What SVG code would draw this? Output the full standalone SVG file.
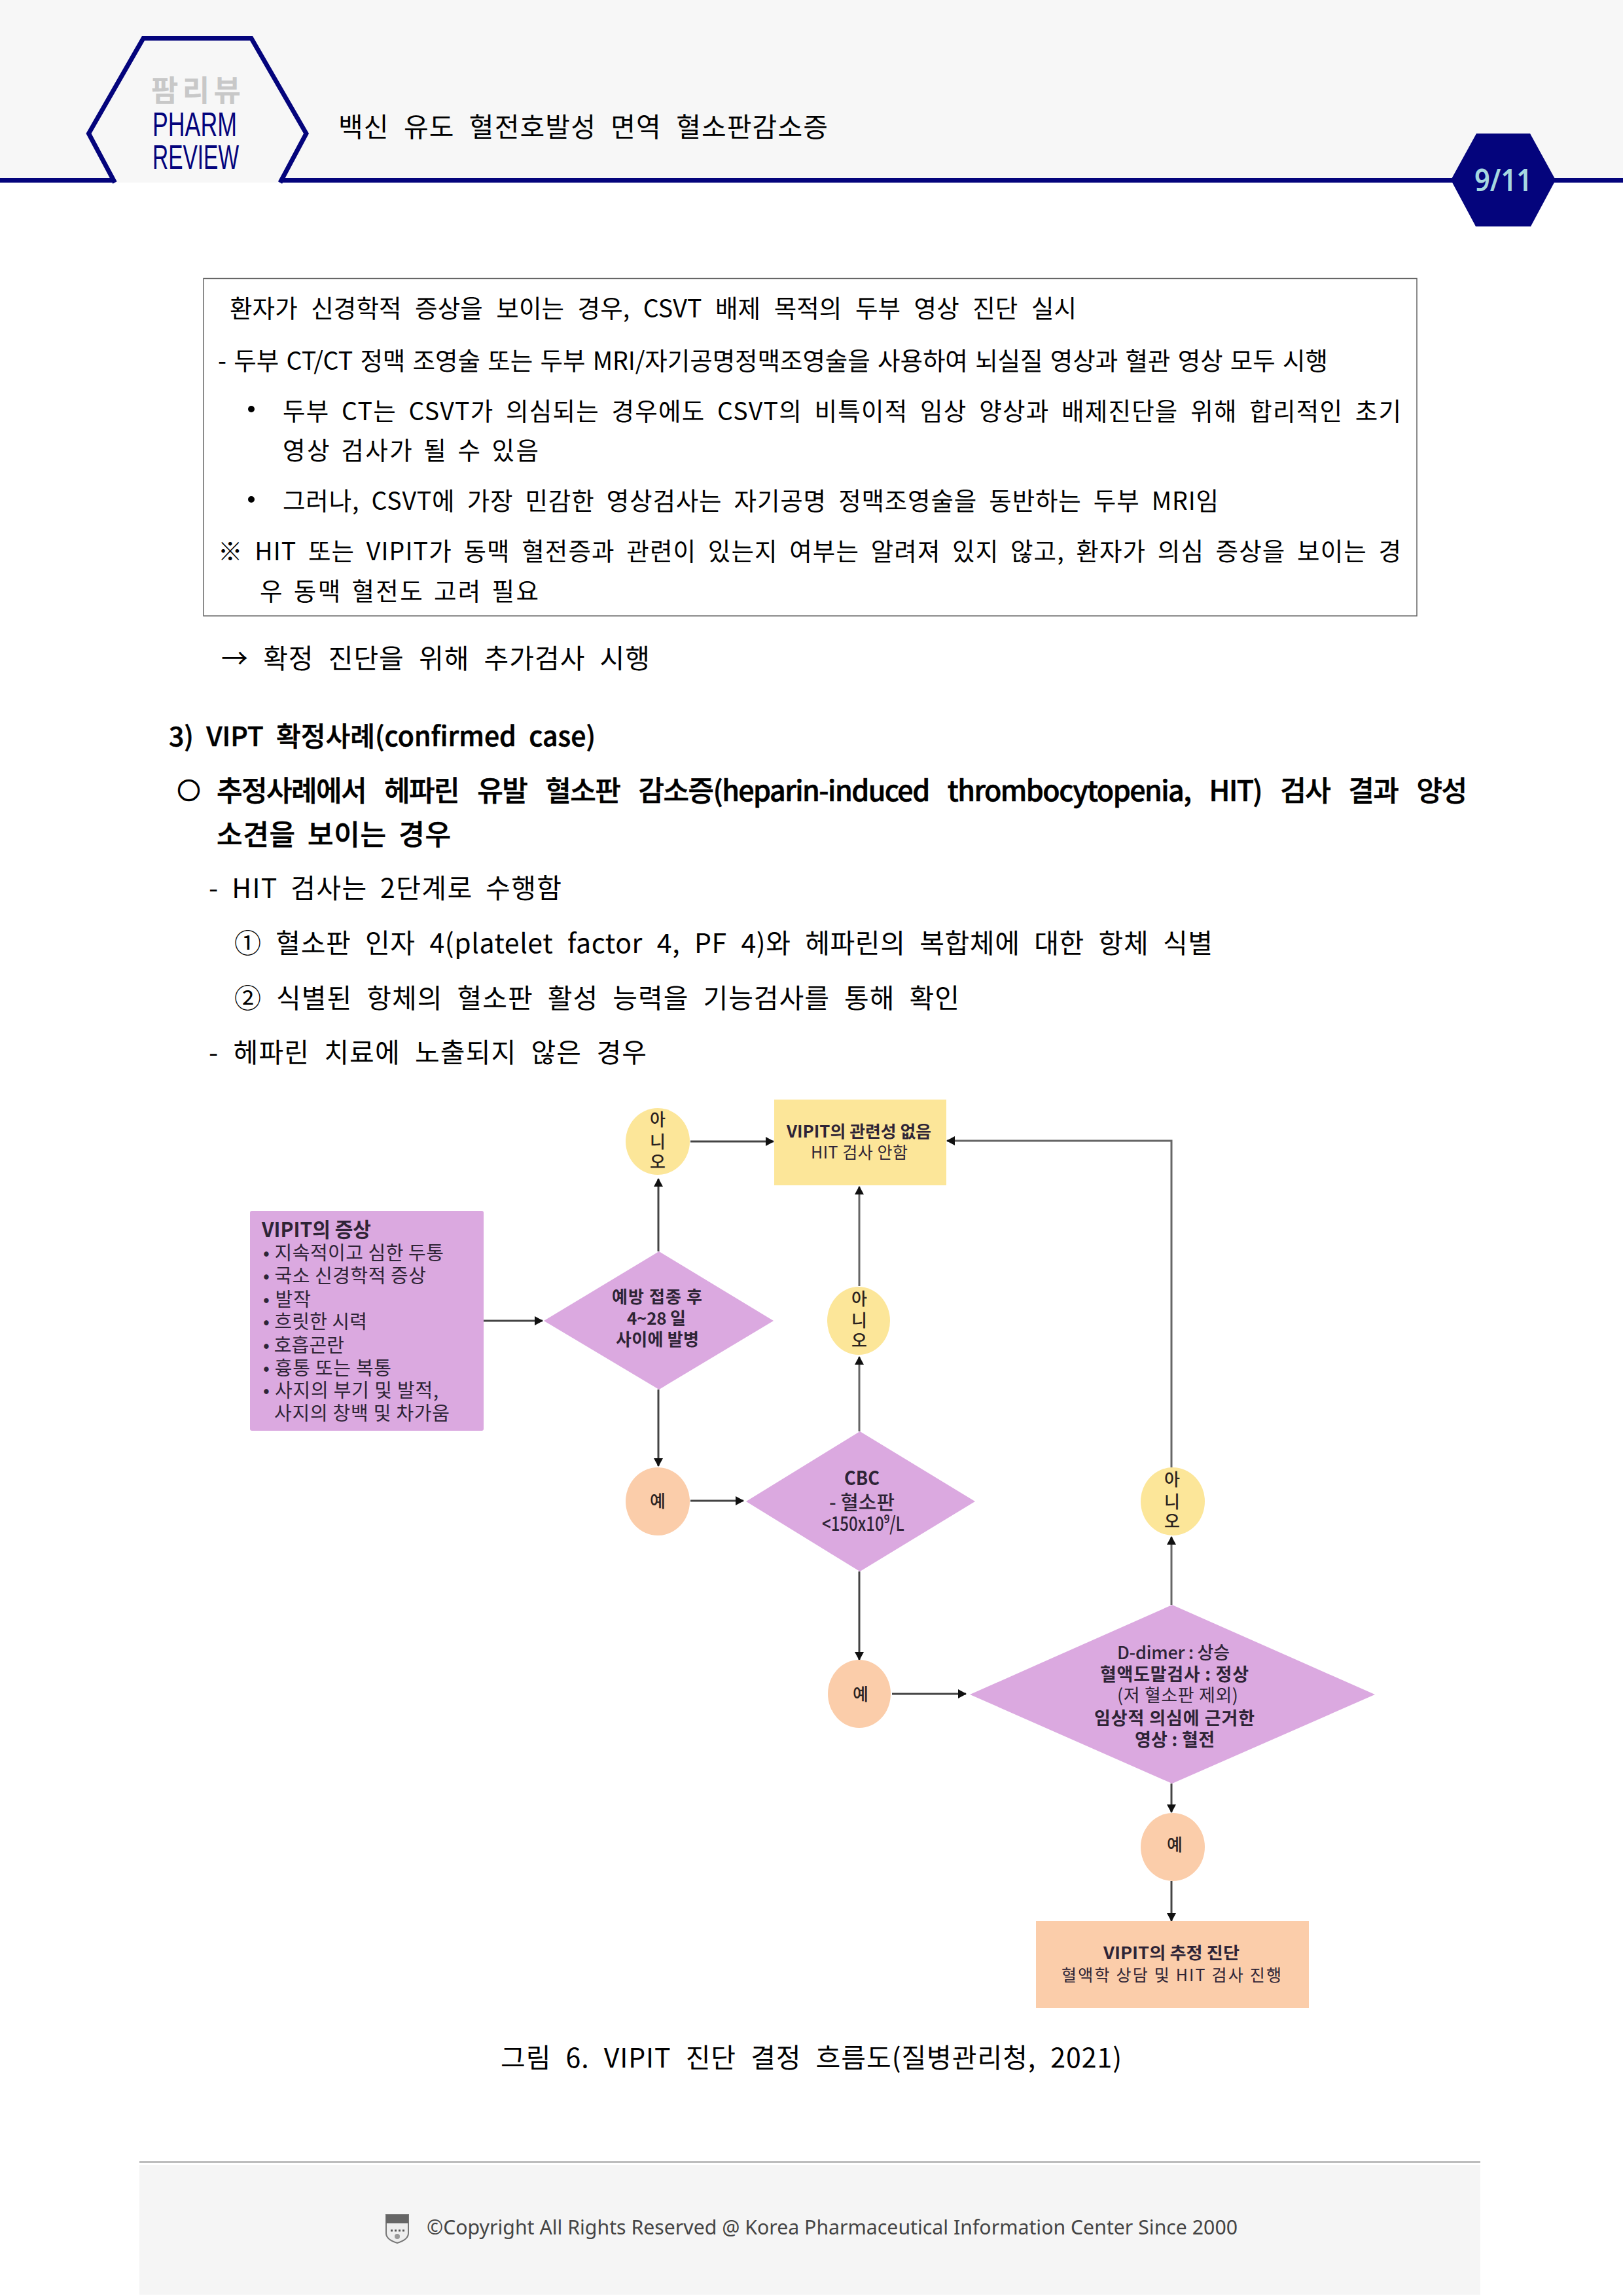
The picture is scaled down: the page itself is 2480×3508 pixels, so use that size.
<svg xmlns="http://www.w3.org/2000/svg" width="2480" height="3508" viewBox="0 0 2480 3508">
<style>
text{font-family:"Noto Sans CJK KR","Noto Sans",sans-serif;fill:#000}
.b{font-size:37.5px;word-spacing:9px}
.h{font-size:41px;word-spacing:12px}
.m{font-weight:500}
.t{stroke:#000;stroke-width:.6px}
.k{font-weight:700}
.f{fill:#2e2436}
.n{font-size:29px}
.d{font-size:26px;font-weight:700}
.c{font-size:26px;font-weight:500;text-anchor:middle;fill:#2a2220}
.ln{stroke:#444;stroke-width:3;fill:none;marker-end:url(#ah)}
.lg{stroke:#666;stroke-width:3;fill:none;marker-end:url(#ah)}
.pu{fill:#dba9e0}
.ye{fill:#fce699}
.pe{fill:#fbcdaa}
.navy{fill:#04047c}
</style>
<defs>
<marker id="ah" markerUnits="userSpaceOnUse" markerWidth="14" markerHeight="14" refX="12" refY="7" orient="auto"><path d="M0 0L13 7L0 14Z" fill="#111"/></marker>
</defs>
<rect width="2480" height="3508" fill="#fff"/>

<g id="header">
<rect x="0" y="0" width="2480" height="275" fill="#f7f7f7"/>
<path class="navy" d="M0 272H170L175 279H0Z"/>
<path class="navy" d="M431 272H2280V279H423Z"/>
<path class="navy" d="M2300 272H2480V279H2300Z"/>
<polygon points="177,279 136,204 218,59 385,59 468,204 427,279" fill="#f7f7f7"/>
<polyline points="175.500,279 135.500,204 219,58.500 384,58.500 468,204 428,279" fill="none" stroke="#04047c" stroke-width="7"/>
<text x="231" y="155" font-size="45" font-weight="700" style="fill:#c8c8c8" textLength="137" lengthAdjust="spacing">팜리뷰</text>
<text x="233" y="208" font-size="51" style="font-family:'Liberation Sans',sans-serif;fill:#04047c" textLength="129" lengthAdjust="spacingAndGlyphs">PHARM</text>
<text x="233" y="258" font-size="51" style="font-family:'Liberation Sans',sans-serif;fill:#04047c" textLength="132" lengthAdjust="spacingAndGlyphs">REVIEW</text>
<text x="517" y="209" class="h" textLength="748" lengthAdjust="spacing">백신 유도 혈전호발성 면역 혈소판감소증</text>
<polygon class="navy" points="2256,204 2338,204 2377,275 2339,346 2255,346 2217,275"/>
<text x="2253" y="292" font-size="46" font-weight="600" style="fill:#a5d8e0;font-family:'Noto Sans',sans-serif" textLength="88" lengthAdjust="spacingAndGlyphs">9/11</text>
</g>

<g id="body-text">
<rect x="311" y="425.500" width="1854" height="515.500" fill="none" stroke="#666" stroke-width="1.500"/>
<text x="351" y="485" class="b" style="word-spacing:12px" textLength="1294" lengthAdjust="spacing">환자가 신경학적 증상을 보이는 경우, CSVT 배제 목적의 두부 영상 진단 실시</text>
<text x="333" y="565" class="b" style="word-spacing:3px" textLength="1696" lengthAdjust="spacing">- 두부 CT/CT 정맥 조영술 또는 두부 MRI/자기공명정맥조영술을 사용하여 뇌실질 영상과 혈관 영상 모두 시행</text>
<circle cx="384" cy="625" r="5" fill="#000"/>
<text x="432" y="642" class="b" textLength="1709" lengthAdjust="spacing">두부 CT는 CSVT가 의심되는 경우에도 CSVT의 비특이적 임상 양상과 배제진단을 위해 합리적인 초기</text>
<text x="432" y="702" class="b" style="word-spacing:4px" textLength="391" lengthAdjust="spacing">영상 검사가 될 수 있음</text>
<circle cx="384" cy="763" r="5" fill="#000"/>
<text x="432" y="779" class="b" textLength="1430" lengthAdjust="spacing">그러나, CSVT에 가장 민감한 영상검사는 자기공명 정맥조영술을 동반하는 두부 MRI임</text>
<text x="333" y="856" class="b" style="word-spacing:8px" textLength="1808" lengthAdjust="spacing">※ HIT 또는 VIPIT가 동맥 혈전증과 관련이 있는지 여부는 알려져 있지 않고, 환자가 의심 증상을 보이는 경</text>
<text x="397" y="917" class="b" style="word-spacing:4px" textLength="426" lengthAdjust="spacing">우 동맥 혈전도 고려 필요</text>
<text x="338" y="1021" class="h" textLength="655" lengthAdjust="spacing">→ 확정 진단을 위해 추가검사 시행</text>
<text x="258" y="1140" class="h m t" style="word-spacing:10px" textLength="652" lengthAdjust="spacing">3) VIPT 확정사례(confirmed case)</text>
<text x="271" y="1221" class="m" font-size="35" style="stroke:#000;stroke-width:1.800px">○</text>
<text x="331" y="1224" class="h m t" style="font-size:43px;word-spacing:20px" textLength="1911" lengthAdjust="spacing">추정사례에서 헤파린 유발 혈소판 감소증(heparin-induced thrombocytopenia, HIT) 검사 결과 양성</text>
<text x="331" y="1291" class="h m t" style="font-size:43px;word-spacing:8px" textLength="358" lengthAdjust="spacing">소견을 보이는 경우</text>
<text x="319" y="1372" class="h" style="word-spacing:9px" textLength="539" lengthAdjust="spacing">- HIT 검사는 2단계로 수행함</text>
<text x="358" y="1456" class="h" textLength="1495" lengthAdjust="spacing">① 혈소판 인자 4(platelet factor 4, PF 4)와 헤파린의 복합체에 대한 항체 식별</text>
<text x="358" y="1540" class="h" textLength="1108" lengthAdjust="spacing">② 식별된 항체의 혈소판 활성 능력을 기능검사를 통해 확인</text>
<text x="319" y="1623" class="h" textLength="669" lengthAdjust="spacing">- 헤파린 치료에 노출되지 않은 경우</text>
<text x="765" y="3159" class="h" textLength="949" lengthAdjust="spacing">그림 6. VIPIT 진단 결정 흐름도(질병관리청, 2021)</text>
</g>

<g id="connectors">
<path class="ln" d="M739 2018H829"/>
<path class="ln" d="M1006 1912V1801"/>
<path class="ln" d="M1055 1744H1182"/>
<path class="ln" d="M1006 2123V2240"/>
<path class="ln" d="M1055 2293H1136"/>
<path class="lg" d="M1313 1965V1813"/>
<path class="lg" d="M1313 2187V2073"/>
<path class="ln" d="M1313 2401V2536"/>
<path class="ln" d="M1363 2588H1476"/>
<path class="lg" d="M1790 2452V2348"/>
<path class="lg" d="M1790 2242V1743H1447"/>
<path class="ln" d="M1790 2725V2769"/>
<path class="ln" d="M1790 2874V2935"/>
</g>

<g id="n-symptoms">
<rect class="pu" x="382" y="1850" width="357" height="336" rx="3"/>
<text x="400" y="1890" font-size="31" class="k f" textLength="167" lengthAdjust="spacingAndGlyphs">VIPIT의 증상</text>
<text x="402" y="1925" class="n f" textLength="276" lengthAdjust="spacing">• 지속적이고 심한 두통</text>
<text x="402" y="1960" class="n f" textLength="249" lengthAdjust="spacing">• 국소 신경학적 증상</text>
<text x="402" y="1996" class="n f" textLength="73" lengthAdjust="spacing">• 발작</text>
<text x="402" y="2030" class="n f" textLength="159" lengthAdjust="spacing">• 흐릿한 시력</text>
<text x="402" y="2066" class="n f" textLength="124" lengthAdjust="spacing">• 호흡곤란</text>
<text x="402" y="2101" class="n f" textLength="196" lengthAdjust="spacing">• 흉통 또는 복통</text>
<text x="402" y="2135" class="n f" textLength="268" lengthAdjust="spacing">• 사지의 부기 및 발적,</text>
<text x="419" y="2170" class="n f" textLength="268" lengthAdjust="spacing">사지의 창백 및 차가움</text>
</g>

<g id="n-onset">
<polygon class="pu" points="1007,1912 1182,2018 1007,2123 831,2018"/>
<text x="935" y="1991" class="d f" textLength="138" lengthAdjust="spacing">예방 접종 후</text>
<text x="958" y="2024" class="d f" textLength="90" lengthAdjust="spacing">4~28 일</text>
<text x="941" y="2056" class="d f" textLength="127" lengthAdjust="spacing">사이에 발병</text>
</g>

<g id="n-no1"><ellipse class="ye" cx="1005" cy="1744" rx="49" ry="51"/>
<text class="c"><tspan x="1005" y="1720">아</tspan><tspan x="1005" y="1754">니</tspan><tspan x="1005" y="1785">오</tspan></text></g>

<g id="n-unrelated">
<rect class="ye" x="1183" y="1680" width="263" height="131"/>
<text x="1202" y="1738" font-size="25" class="k f" textLength="221" lengthAdjust="spacingAndGlyphs">VIPIT의 관련성 없음</text>
<text x="1239" y="1770" font-size="25" class="f" textLength="148" lengthAdjust="spacing">HIT 검사 안함</text>
</g>

<g id="n-no2"><ellipse class="ye" cx="1312" cy="2018" rx="48" ry="52"/>
<text class="c"><tspan x="1313" y="1994">아</tspan><tspan x="1313" y="2027">니</tspan><tspan x="1313" y="2058">오</tspan></text></g>

<g id="n-yes1"><ellipse class="pe" cx="1005" cy="2294" rx="49" ry="52"/>
<text x="1005" y="2303" class="c k">예</text></g>

<g id="n-cbc">
<polygon class="pu" points="1314,2187 1490,2294 1314,2401 1140,2294"/>
<text x="1290" y="2269" font-size="30" class="k f" textLength="54" lengthAdjust="spacingAndGlyphs">CBC</text>
<text x="1267" y="2306" font-size="30" class="m f" textLength="100" lengthAdjust="spacing">- 혈소판</text>
<text x="1256" y="2339" font-size="30" class="m f" textLength="126" lengthAdjust="spacingAndGlyphs">&lt;150x10⁹/L</text>
</g>

<g id="n-no3"><ellipse class="ye" cx="1792" cy="2294" rx="49" ry="52"/>
<text class="c"><tspan x="1791" y="2270">아</tspan><tspan x="1791" y="2304">니</tspan><tspan x="1791" y="2334">오</tspan></text></g>

<g id="n-yes2"><ellipse class="pe" cx="1313" cy="2588" rx="48" ry="52"/>
<text x="1315" y="2598" class="c k">예</text></g>

<g id="n-ddimer">
<polygon class="pu" points="1791,2452 2101,2589 1791,2725 1482,2589"/>
<text x="1707" y="2535" font-size="27" class="m f" textLength="172" lengthAdjust="spacing">D-dimer : 상승</text>
<text x="1681" y="2568" font-size="27" class="k f" textLength="227" lengthAdjust="spacing">혈액도말검사 : 정상</text>
<text x="1707" y="2600" font-size="27" class="f" textLength="185" lengthAdjust="spacing">(저 혈소판 제외)</text>
<text x="1672" y="2635" font-size="27" class="k f" textLength="245" lengthAdjust="spacing">임상적 의심에 근거한</text>
<text x="1734" y="2668" font-size="27" class="k f" textLength="122" lengthAdjust="spacing">영상 : 혈전</text>
</g>

<g id="n-yes3"><ellipse class="pe" cx="1792" cy="2822" rx="49" ry="52"/>
<text x="1795" y="2828" class="c k">예</text></g>

<g id="n-presumed">
<rect class="pe" x="1583" y="2935" width="417" height="133"/>
<text x="1686" y="2993" font-size="25" class="k f" textLength="208" lengthAdjust="spacingAndGlyphs">VIPIT의 추정 진단</text>
<text x="1622" y="3027" font-size="25" class="f" textLength="336" lengthAdjust="spacing">혈액학 상담 및 HIT 검사 진행</text>
</g>

<g id="footer">
<rect x="213" y="3302" width="2049" height="3" fill="#bdbdbd"/>
<rect x="213" y="3308" width="2049" height="198" fill="#f5f5f5"/>
<path d="M590 3384H624V3412Q624 3422 607 3427Q590 3422 590 3412Z" fill="#eee" stroke="#777" stroke-width="2"/>
<rect x="590" y="3384" width="34" height="13" fill="#666"/>
<circle cx="607" cy="3417" r="4" fill="#999"/>
<path d="M597 3408H618" stroke="#555" stroke-width="3" stroke-dasharray="3 3"/>
<text x="652" y="3414" font-size="31" style="fill:#444;font-family:'Noto Sans',sans-serif" textLength="1239" lengthAdjust="spacingAndGlyphs">©Copyright All Rights Reserved @ Korea Pharmaceutical Information Center Since 2000</text>
</g>
</svg>
